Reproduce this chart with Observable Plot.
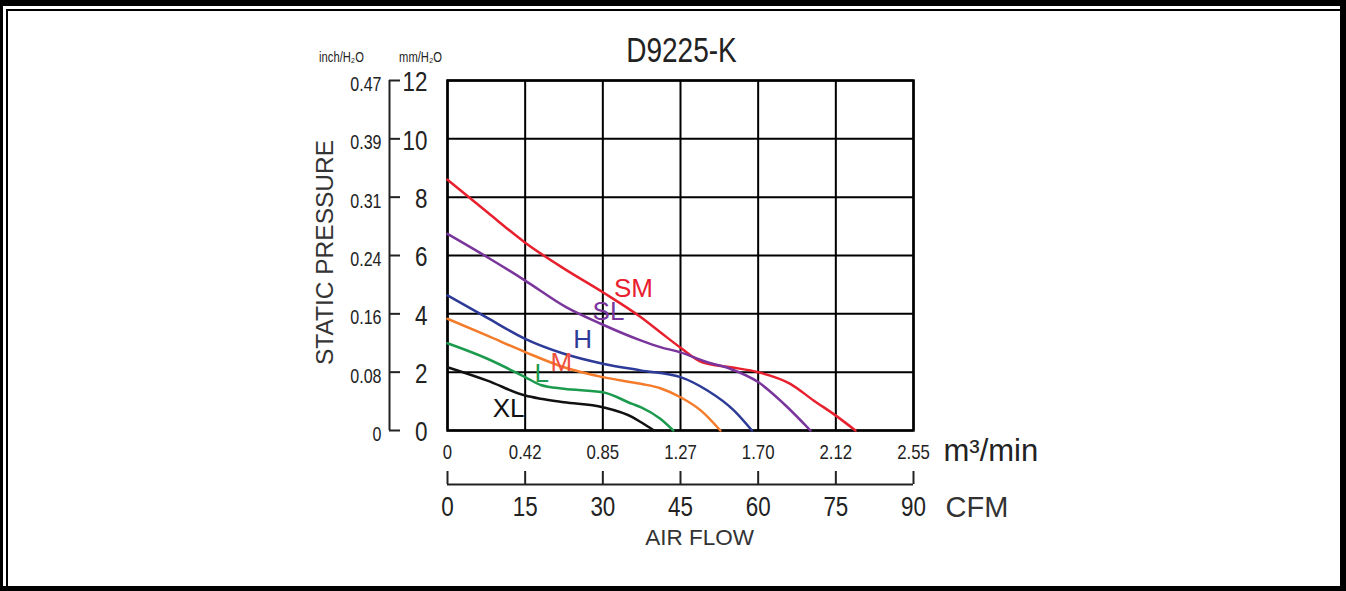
<!DOCTYPE html>
<html>
<head>
<meta charset="utf-8">
<script src="https://cdn.jsdelivr.net/npm/d3@7"></script>
<script src="https://cdn.jsdelivr.net/npm/@observablehq/plot@0.6"></script>
<style>
  html, body { margin: 0; padding: 0; background: #fff; overflow: hidden; }
  #wrap { position: relative; width: 1346px; height: 591px; }
  #outer { position: absolute; left: 0; top: 0; width: 1346px; height: 591px; box-sizing: border-box;
           border-top: 6px solid #000; border-left: 3px solid #000; border-right: 6px solid #000; border-bottom: 5px solid #000; pointer-events: none; z-index: 2; }
  #inner { position: absolute; left: 6px; top: 9px; right: 6px; bottom: 5px; border-top: 2px solid #000; border-left: 2px solid #000; pointer-events: none; z-index: 2; }
  #chart { position: absolute; left: 0; top: 0; z-index: 1; }
</style>
</head>
<body>
<div id="wrap">
  <div id="chart"></div>
  <div id="outer"></div>
  <div id="inner"></div>
</div>
<script>
// ---- data (CFM, mm H2O) ----
const SM = [[0,8.6],[7.7,7.48],[15,6.44],[22.5,5.55],[30,4.74],[37.3,3.89],[41.1,3.37],[45,2.84],[49.2,2.34],[54.7,2.17],[60,2.0],[66.2,1.6],[70.7,1.03],[75,0.51],[78.8,0]];
const SL = [[0,6.74],[7.7,5.94],[15,5.14],[22.9,4.23],[29.6,3.66],[37.3,3.09],[41.1,2.86],[45,2.68],[50.2,2.34],[54.7,2.11],[60,1.66],[65,0.91],[70.1,0]];
const H  = [[0,4.63],[7.7,3.86],[15,3.14],[22.5,2.63],[30,2.29],[37.3,2.06],[45,1.83],[50.2,1.37],[55.3,0.69],[58.8,0]];
const M  = [[0,3.83],[7.7,3.25],[15,2.69],[22.5,2.17],[30,1.83],[37.3,1.6],[41.1,1.45],[45,1.14],[48.9,0.69],[52.7,0]];
const L  = [[0,2.99],[7.7,2.46],[15,1.83],[18,1.56],[22.5,1.43],[30,1.31],[35.7,0.91],[37.3,0.8],[41.1,0.4],[43.6,0]];
const XL = [[0,2.17],[7.7,1.71],[15,1.2],[18,1.09],[22.5,0.97],[30,0.8],[35.7,0.46],[37.3,0.29],[39.9,0]];

const seriesNames  = ["SM","SL","H","M","L","XL"];
const seriesData   = [SM, SL, H, M, L, XL];
const lineColors   = ["#e8202e","#7a359c","#2d3b98","#f47b2a","#1c9a4e","#111111"];
const labelColors  = ["#e8202e","#7a359c","#2d3b98","#f0503e","#1c9a4e","#111111"];
const labelFlow    = [35.9, 31.1, 26.1, 22.0, 18.2, 11.8];
const labelPress   = [4.87, 4.08, 3.12, 2.33, 1.95, 0.75];

const cfmTicks   = [0, 15, 30, 45, 60, 75, 90];
const m3Labels   = ["0", "0.42", "0.85", "1.27", "1.70", "2.12", "2.55"];
const mmTicks    = [0, 2, 4, 6, 8, 10, 12];
const inchLabels = ["0", "0.08", "0.16", "0.24", "0.31", "0.39", "0.47"];

const title = "D9225-K";

// ---- build table ----
const rows = [];
seriesNames.forEach((name, i) => {
  seriesData[i].forEach(([f, p]) => rows.push({series: name, flow: f, pressure: p}));
});
const labels = seriesNames.map((name, i) => ({series: name, flow: labelFlow[i], pressure: labelPress[i]}));

// "Narrow" marks are condensed after rendering (no narrow font installed)
const NARROW = "'Liberation Sans Narrow', 'Liberation Sans', Arial, sans-serif";
const SANS = "'Liberation Sans', Arial, sans-serif";

const chart = Plot.plot({
  width: 1346,
  height: 591,
  marginLeft: 447,
  marginRight: 433,
  marginTop: 80,
  marginBottom: 161,
  style: {background: "transparent", fontFamily: SANS, color: "#222"},
  x: {domain: [0, 90], axis: null},
  y: {domain: [0, 12], axis: null},
  color: {domain: seriesNames, range: lineColors},
  marks: [
    Plot.gridX(cfmTicks, {stroke: "#000", strokeOpacity: 1, strokeWidth: 2}),
    Plot.gridY(mmTicks, {stroke: "#000", strokeOpacity: 1, strokeWidth: 2}),
    Plot.frame({stroke: "#000", strokeWidth: 2.5}),
    Plot.line(rows, {x: "flow", y: "pressure", z: "series", stroke: "series", curve: "monotone-x", strokeWidth: 2.5}),
    Plot.text(labels, {x: "flow", y: "pressure", text: "series", fill: (d) => labelColors[seriesNames.indexOf(d.series)], fontSize: 26, fontFamily: SANS, lineAnchor: "middle"}),
    // left mm axis
    Plot.ruleX([0], {y1: 0, y2: 12, dx: -58, stroke: "#222", strokeWidth: 2}),
    Plot.axisY(mmTicks, {anchor: "left", label: null, tickSize: 11, dx: -47, tickFormat: () => "", stroke: "#222", strokeWidth: 2}),
    Plot.text(mmTicks, {y: (d) => d, text: (d) => String(d), frameAnchor: "left", dx: -20, dy: 2, textAnchor: "end", lineAnchor: "middle", fontSize: 28, fontFamily: NARROW, fill: "#222"}),
    Plot.text(mmTicks, {y: (d) => d, text: (d, i) => inchLabels[i], frameAnchor: "left", dx: -66, dy: 4, textAnchor: "end", lineAnchor: "middle", fontSize: 20, fontFamily: NARROW, fill: "#222"}),
    Plot.text(["STATIC PRESSURE"], {frameAnchor: "left", dx: -122, dy: -3, rotate: -90, textAnchor: "middle", lineAnchor: "middle", fontSize: 24.5, fontFamily: SANS, fill: "#333"}),
    Plot.text(["inch/H₂O"], {frameAnchor: "top-left", dx: -106, dy: -23, textAnchor: "middle", lineAnchor: "middle", fontSize: 14, fontFamily: NARROW, fill: "#222"}),
    Plot.text(["mm/H₂O"], {frameAnchor: "top-left", dx: -27, dy: -23, textAnchor: "middle", lineAnchor: "middle", fontSize: 14, fontFamily: NARROW, fill: "#222"}),
    Plot.text([title], {frameAnchor: "top", dx: 1, dy: -30, textAnchor: "middle", lineAnchor: "middle", fontSize: 35, fontFamily: NARROW, fill: "#222"}),
    // bottom m3/min labels
    Plot.text(cfmTicks, {x: (d) => d, text: (d, i) => m3Labels[i], frameAnchor: "bottom", dy: 22, lineAnchor: "middle", fontSize: 21, fontFamily: NARROW, fill: "#222"}),
    Plot.text(["m³/min"], {frameAnchor: "bottom-right", dx: 30, dy: 21, textAnchor: "start", lineAnchor: "middle", fontSize: 31, fontFamily: SANS, fill: "#222"}),
    // CFM axis
    Plot.ruleY([0], {x1: 0, x2: 90, dy: 54, stroke: "#222", strokeWidth: 2}),
    Plot.axisX(cfmTicks, {anchor: "bottom", label: null, tickSize: 13, dy: 41, tickFormat: () => "", stroke: "#222", strokeWidth: 2}),
    Plot.text(cfmTicks, {x: (d) => d, text: (d) => String(d), frameAnchor: "bottom", dy: 77, lineAnchor: "middle", fontSize: 28, fontFamily: NARROW, fill: "#222"}),
    Plot.text(["CFM"], {frameAnchor: "bottom-right", dx: 32, dy: 77, textAnchor: "start", lineAnchor: "middle", fontSize: 29, fontFamily: SANS, fill: "#333"}),
    Plot.text(["AIR FLOW"], {frameAnchor: "bottom", dx: 19, dy: 107, textAnchor: "middle", lineAnchor: "middle", fontSize: 22.5, fontFamily: SANS, fill: "#333"})
  ]
});
document.getElementById("chart").appendChild(chart);

// condense the texts meant to be in a narrow face
chart.querySelectorAll('g[font-family*="Narrow"] text, text[font-family*="Narrow"]').forEach((t) => {
  const w = t.getComputedTextLength();
  if (w > 0) {
    t.setAttribute("textLength", (w * 0.8).toFixed(1));
    t.setAttribute("lengthAdjust", "spacingAndGlyphs");
  }
});
</script>
</body>
</html>
